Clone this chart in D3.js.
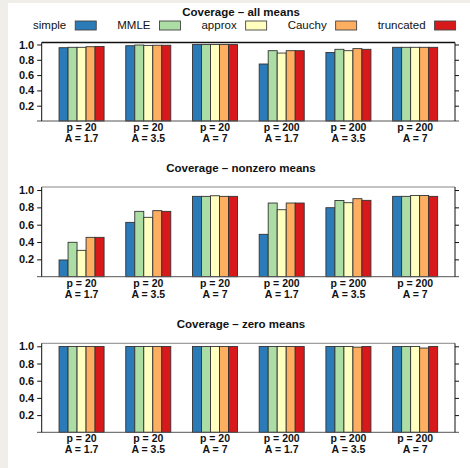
<!DOCTYPE html>
<html>
<head>
<meta charset="utf-8">
<script src="https://cdn.jsdelivr.net/npm/d3@7"></script>
<style>
  html, body { margin: 0; padding: 0; background: #efeee9; }
  svg { display: block; }
  text { font-family: "Liberation Sans", Arial, Helvetica, sans-serif; fill: #111; }
</style>
</head>
<body>
<svg id="chart" width="470" height="468"></svg>
<script>
// Methods compared, in drawing order
const methods = ["simple", "MMLE", "approx", "Cauchy", "truncated"];
const methodColors = ["#2b7bb9", "#abdda4", "#ffffbf", "#fdae61", "#d7191c"];

// Simulation settings (one bar group per setting)
const groupP = ["20", "20", "20", "200", "200", "200"];
const groupA = ["1.7", "3.5", "7", "1.7", "3.5", "7"];

const yTicks = [0.2, 0.4, 0.6, 0.8, 1.0];

// Coverage per setting, one row per setting, columns follow `methods`
const coverageAll = [
  [0.958, 0.963, 0.963, 0.971, 0.974],
  [0.984, 0.993, 0.988, 0.990, 0.990],
  [0.999, 0.999, 0.999, 0.999, 0.999],
  [0.745, 0.919, 0.888, 0.919, 0.919],
  [0.895, 0.937, 0.919, 0.946, 0.937],
  [0.963, 0.963, 0.963, 0.963, 0.963]
];
const coverageNonzero = [
  [0.193, 0.397, 0.304, 0.454, 0.454],
  [0.627, 0.754, 0.685, 0.762, 0.754],
  [0.927, 0.927, 0.934, 0.927, 0.927],
  [0.489, 0.850, 0.773, 0.850, 0.850],
  [0.796, 0.879, 0.854, 0.900, 0.881],
  [0.927, 0.927, 0.937, 0.937, 0.927]
];
const coverageZero = [
  [0.998, 0.998, 0.998, 0.998, 0.998],
  [0.998, 0.998, 0.998, 0.998, 0.998],
  [0.998, 0.998, 0.998, 0.998, 0.998],
  [0.998, 0.998, 0.998, 0.998, 0.998],
  [0.998, 0.998, 0.998, 0.990, 0.998],
  [0.998, 0.998, 0.998, 0.980, 0.998]
];

const panels = [
  { title: "Coverage \u2013 all means", data: coverageAll, top: 42.5, bottom: 121, ymax: 1.026, titleY: 16, topColor: "#111" },
  { title: "Coverage \u2013 nonzero means", data: coverageNonzero, top: 187, bottom: 276.7, ymax: 1.035, titleY: 172, topColor: "#888" },
  { title: "Coverage \u2013 zero means", data: coverageZero, top: 343.3, bottom: 432.3, ymax: 1.035, titleY: 328, topColor: "#888" }
];

const svg = d3.select("#chart");
svg.append("rect").attr("x", 8).attr("y", 3).attr("width", 462).attr("height", 465).attr("fill", "#fff");

const plotLeft = 41.7, plotRight = 455;
const groups = d3.range(groupP.length);

const x = d3.scaleBand().domain(groups).range([plotLeft, plotRight])
  .paddingInner(0.325).paddingOuter(0.26);
const xm = d3.scaleBand().domain(methods).range([0, x.bandwidth()]).padding(0);
const color = d3.scaleOrdinal().domain(methods).range(methodColors);

// Legend: label on the left, swatch on the right
const legend = svg.append("g");
let lx = 33;
methods.forEach(m => {
  const t = legend.append("text").attr("x", lx).attr("y", 28.5)
    .style("font-size", "11.5px").text(m);
  const w = t.node().getComputedTextLength();
  const bx = lx + w + 9;
  legend.append("rect").attr("x", bx).attr("y", 21).attr("width", 21).attr("height", 9)
    .attr("fill", color(m)).attr("stroke", "#444").attr("stroke-width", 0.9);
  lx = bx + 21 + 21;
});

panels.forEach(p => {
  const y = d3.scaleLinear().domain([0, p.ymax]).range([p.bottom, p.top]);
  const g = svg.append("g");

  g.append("text").attr("x", 241).attr("y", p.titleY).attr("text-anchor", "middle")
    .style("font-size", "11.5px").style("font-weight", "bold").text(p.title);

  // bars
  const grp = g.selectAll("g.grp").data(p.data).join("g")
    .attr("transform", (d, i) => `translate(${x(i)},0)`);
  grp.selectAll("rect").data(d => d.map((v, j) => ({ m: methods[j], v }))).join("rect")
    .attr("x", d => xm(d.m)).attr("width", xm.bandwidth())
    .attr("y", d => y(d.v)).attr("height", d => y(0) - y(d.v))
    .attr("fill", d => color(d.m)).attr("stroke", "#333").attr("stroke-width", 0.9);

  // frame: top line, baseline
  g.append("line").attr("x1", plotLeft).attr("x2", plotRight).attr("y1", p.top).attr("y2", p.top)
    .attr("stroke", p.topColor).attr("stroke-width", p.topColor === "#111" ? 1.3 : 1);
  g.append("line").attr("x1", 37).attr("x2", 459).attr("y1", p.bottom).attr("y2", p.bottom)
    .attr("stroke", "#555").attr("stroke-width", 1);

  // left axis with labels
  const left = g.append("g").attr("transform", `translate(${plotLeft},0)`)
    .call(d3.axisLeft(y).tickValues(yTicks).tickFormat(d3.format(".1f")).tickSize(4.5).tickPadding(3).tickSizeOuter(0));
  left.select(".domain").attr("d", `M0,${p.top}V${p.bottom}`).attr("stroke", "#111");
  left.selectAll(".tick line").attr("stroke", "#111");
  left.selectAll("text").style("font-size", "11px").style("font-weight", "bold")
    .style("font-family", "'Liberation Sans', Arial, sans-serif").attr("fill", "#111");

  // right axis, ticks only
  const right = g.append("g").attr("transform", `translate(${plotRight},0)`)
    .call(d3.axisRight(y).tickValues(yTicks).tickFormat("").tickSize(4).tickSizeOuter(0));
  right.select(".domain").attr("d", `M0,${p.top}V${p.bottom}`).attr("stroke", "#111");
  right.selectAll(".tick line").attr("stroke", "#111");

  // group labels
  const lab = g.selectAll("g.lab").data(groups).join("g")
    .attr("transform", i => `translate(${x(i) + x.bandwidth() / 2},${p.bottom})`);
  lab.append("text").attr("y", 10).attr("text-anchor", "middle")
    .style("font-size", "10.5px").style("font-weight", "bold").text(i => `p = ${groupP[i]}`);
  lab.append("text").attr("y", 21).attr("text-anchor", "middle")
    .style("font-size", "10.5px").style("font-weight", "bold").text(i => `A = ${groupA[i]}`);
});
</script>
</body>
</html>
